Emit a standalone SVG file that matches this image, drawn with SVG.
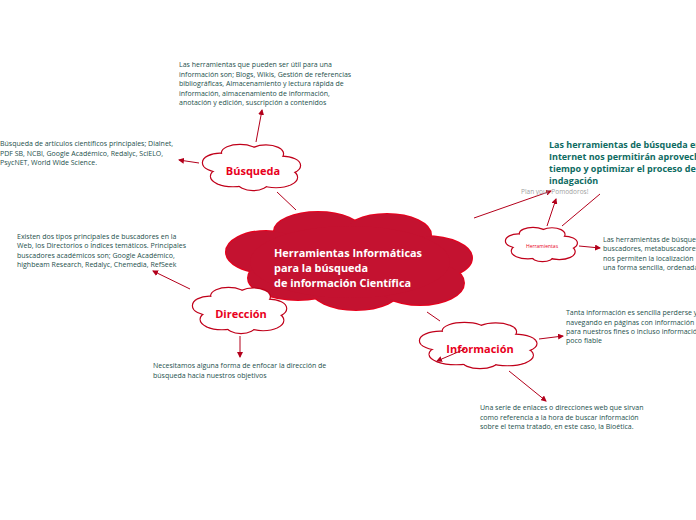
<svg xmlns="http://www.w3.org/2000/svg" xmlns:xlink="http://www.w3.org/1999/xlink" width="696" height="520" viewBox="0 0 696 520">
<style>
.bg{fill:#ffffff}
.t{font-family:"Open Sans","Noto Sans","DejaVu Sans",sans-serif;font-size:7px;fill:#24504c}
.h{font-family:"Open Sans","Noto Sans","DejaVu Sans",sans-serif;font-size:9px;font-weight:bold;fill:#0e6b62}
.g{font-family:"Open Sans","Noto Sans","DejaVu Sans",sans-serif;font-size:6.5px;fill:#a0a0a0}
.lbl{font-family:"Open Sans","Noto Sans","DejaVu Sans",sans-serif;font-weight:bold;fill:#e8001c;text-anchor:middle}
.ct{font-family:"Open Sans","Noto Sans","DejaVu Sans",sans-serif;font-size:10.9px;font-weight:bold;fill:#ffffff}
.cs{fill:#ffffff;stroke:#c0001a;stroke-width:2.4}
.cf{fill:#ffffff;stroke:none}
.bs{fill:#c41230;stroke:#e8001c;stroke-width:2}
.bf{fill:#c41230;stroke:none}
.c{fill:none;stroke:#b3001b;stroke-width:1}
.a{marker-end:url(#arr)}
</style>
<defs>
<marker id="arr" markerUnits="userSpaceOnUse" markerWidth="6" markerHeight="6" refX="5" refY="3" orient="auto">
<path d="M0,0 L6,3 L0,6 z" fill="#b3001b"/>
</marker>
<g id="cloud">
<ellipse cx="37" cy="8" rx="18" ry="8" vector-effect="non-scaling-stroke"/>
<ellipse cx="63" cy="9" rx="17" ry="8.5" vector-effect="non-scaling-stroke"/>
<ellipse cx="17" cy="18" rx="17" ry="9" vector-effect="non-scaling-stroke"/>
<ellipse cx="79" cy="21" rx="18" ry="9" vector-effect="non-scaling-stroke"/>
<ellipse cx="30" cy="32" rx="22" ry="10" vector-effect="non-scaling-stroke"/>
<ellipse cx="50" cy="38" rx="15" ry="8" vector-effect="non-scaling-stroke"/>
<ellipse cx="73" cy="33" rx="21" ry="10" vector-effect="non-scaling-stroke"/>
<ellipse cx="49" cy="22" rx="38" ry="14" vector-effect="non-scaling-stroke"/>
</g>
<g id="big">
<ellipse cx="318" cy="231" rx="44" ry="19"/>
<ellipse cx="387" cy="235" rx="44" ry="21"/>
<ellipse cx="266" cy="252" rx="40" ry="21"/>
<ellipse cx="425" cy="258" rx="47" ry="22"/>
<ellipse cx="298" cy="278" rx="50" ry="22"/>
<ellipse cx="356" cy="289" rx="45" ry="21"/>
<ellipse cx="420" cy="283" rx="44" ry="22"/>
<ellipse cx="350" cy="262" rx="100" ry="36"/>
</g>
</defs>
<rect class="bg" x="0" y="0" width="696" height="520"/>

<g id="connectors">
<path class="c" d="M296,210 L277,192"/>
<path class="c a" d="M256,142 L262,110"/>
<path class="c a" d="M199,163 L179,160"/>
<path class="c a" d="M474,218 L551,191"/>
<path class="c a" d="M547,226 L556,199"/>
<path class="c" d="M562,226 L600,194"/>
<path class="c a" d="M579,246 L600,248"/>
<path class="c a" d="M190,289 L153,271"/>
<path class="c a" d="M240,336 L240,357"/>
<path class="c" d="M427,312 L440,321"/>
<path class="c a" d="M539,339 L563,336"/>
<path class="c a" d="M509,371 L546,401"/>
</g>

<g id="central">
<use href="#big" class="bs"/>
<use href="#big" class="bf"/>
<text class="ct" x="274" y="257">Herramientas Informáticas</text>
<text class="ct" x="274" y="272">para la búsqueda</text>
<text class="ct" x="274" y="287">de información Científica</text>
</g>

<g id="busqueda">
<g transform="translate(203,145) scale(1,0.98)">
<use href="#cloud" class="cs"/>
<use href="#cloud" class="cf"/>
</g>
<text class="lbl" x="253" y="175" font-size="11">Búsqueda</text>
</g>

<g id="herramientas">
<g transform="translate(506,228) scale(0.73,0.72)">
<use href="#cloud" class="cs"/>
<use href="#cloud" class="cf"/>
</g>
<text class="lbl" x="542" y="248" font-size="5" style="font-weight:normal">Herramientas</text>
</g>

<g id="direccion">
<g transform="translate(193,288) scale(0.96,0.98)">
<use href="#cloud" class="cs"/>
<use href="#cloud" class="cf"/>
</g>
<text class="lbl" x="241" y="318" font-size="11">Dirección</text>
</g>

<g id="informacion">
<g transform="translate(420,323) scale(1.2,0.98)">
<use href="#cloud" class="cs"/>
<use href="#cloud" class="cf"/>
</g>
<text class="lbl" x="480" y="353" font-size="11">Información</text>
<path class="c a" d="M465,349 L437,361"/>
</g>

<g id="txt-busqueda-top">
<text class="t" x="179" y="67">Las herramientas que pueden ser útil para una</text>
<text class="t" x="179" y="77">información son; Blogs, Wikis, Gestión de referencias</text>
<text class="t" x="179" y="86">bibliográficas, Almacenamiento y lectura rápida de</text>
<text class="t" x="179" y="96">información, almacenamiento de información,</text>
<text class="t" x="179" y="105">anotación y edición, suscripción a contenidos</text>
</g>

<g id="txt-busqueda-left">
<text class="t" x="0" y="146">Búsqueda de artículos científicos principales; Dialnet,</text>
<text class="t" x="0" y="156">PDF SB, NCBI, Google Académico, Redalyc, SciELO,</text>
<text class="t" x="0" y="165">PsycNET, World Wide Science.</text>
</g>

<g id="txt-headline">
<text class="h" x="549" y="148">Las herramientas de búsqueda en</text>
<text class="h" x="549" y="160">Internet nos permitirán aprovechar</text>
<text class="h" x="549" y="172">tiempo y optimizar el proceso de</text>
<text class="h" x="549" y="184">indagación</text>
</g>

<g id="txt-pomodoros">
<text class="g" x="521" y="194">Plan  your Pomodoros!</text>
</g>

<g id="txt-herramientas-right">
<text class="t" x="603" y="242">Las herramientas de búsqueda</text>
<text class="t" x="603" y="251">buscadores, metabuscadores</text>
<text class="t" x="603" y="261">nos permiten la localización</text>
<text class="t" x="603" y="270">una forma sencilla, ordenada</text>
</g>

<g id="txt-direccion-left">
<text class="t" x="17" y="239">Existen dos tipos principales de buscadores en la</text>
<text class="t" x="17" y="248">Web, los Directorios o Índices temáticos. Principales</text>
<text class="t" x="17" y="258">buscadores académicos son; Google Académico,</text>
<text class="t" x="17" y="267">highbeam Research, Redalyc, Chemedia, RefSeek</text>
</g>

<g id="txt-direccion-bottom">
<text class="t" x="153" y="368">Necesitamos alguna forma de enfocar la dirección de</text>
<text class="t" x="153" y="378">búsqueda hacia nuestros objetivos</text>
</g>

<g id="txt-informacion-right">
<text class="t" x="566" y="315">Tanta información es sencilla perderse y</text>
<text class="t" x="566" y="325">navegando en páginas con información</text>
<text class="t" x="566" y="334">para nuestros fines o incluso información</text>
<text class="t" x="566" y="343">poco fiable</text>
</g>

<g id="txt-informacion-bottom">
<text class="t" x="480" y="410">Una serie de enlaces o direcciones web que sirvan</text>
<text class="t" x="480" y="420">como referencia a la hora de buscar información</text>
<text class="t" x="480" y="429">sobre el tema tratado, en este caso, la Bioética.</text>
</g>
</svg>
